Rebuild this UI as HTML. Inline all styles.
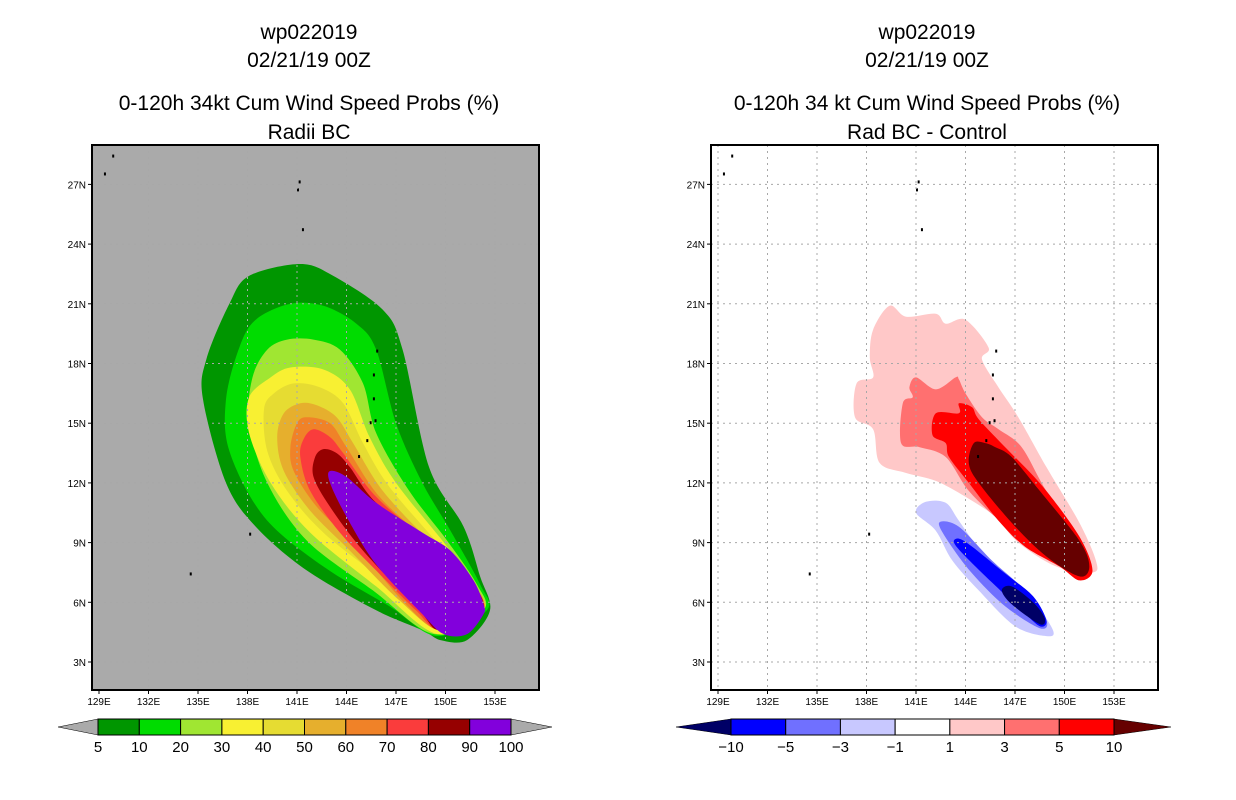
<!DOCTYPE html>
<html><head><meta charset="utf-8">
<style>
body{margin:0;background:#fff;}
svg{display:block;font-family:"Liberation Sans",sans-serif;}
.t{font-size:21px;text-anchor:middle;fill:#000;}
.ax{font-size:10px;fill:#000;}
.cb{font-size:15px;text-anchor:middle;fill:#000;}
</style></head>
<body>
<svg id="chart" width="1236" height="800" viewBox="0 0 1236 800" xmlns="http://www.w3.org/2000/svg">
<text class="t" x="309" y="39">wp022019</text>
<text class="t" x="309" y="67">02/21/19 00Z</text>
<text class="t" x="309" y="110">0-120h 34kt Cum Wind Speed Probs (%)</text>
<text class="t" x="309" y="139">Radii BC</text>
<text class="t" x="927" y="39">wp022019</text>
<text class="t" x="927" y="67">02/21/19 00Z</text>
<text class="t" x="927" y="110">0-120h 34 kt Cum Wind Speed Probs (%)</text>
<text class="t" x="927" y="139">Rad BC - Control</text>
</svg>
<script>
const lonTicks=[129,132,135,138,141,144,147,150,153];
const latTicks=[3,6,9,12,15,18,21,24,27];
const probLevels=["5","10","20","30","40","50","60","70","80","90","100"];
const probColors=["#009600","#00dc00","#a0e632","#f8f032","#e6dc32","#e6af2d","#f08228","#fa3c3c","#960000","#8200dc"];
const diffLevels=["-10","-5","-3","-1","1","3","5","10"];
const diffColors=["#0000ff","#7070ff","#c8c8ff","#ffffff","#ffc8c8","#ff7070","#ff0000"];
// probability contours (lon,lat), levels 5..90
const p5=[[141.2,23.0],[138.1,22.4],[136.9,21.0],[135.5,18.2],[135.3,16.2],[136.7,12.0],[138.5,9.8],[141.6,7.6],[145.8,5.6],[148.6,4.6],[149.7,4.1],[151.3,4.1],[152.7,5.6],[152.1,7.3],[151.1,9.8],[149.0,12.8],[147.4,18.7],[146.2,20.7],[143.2,22.4]];
const p10=[[140.6,21.0],[138.5,20.2],[137.5,18.8],[136.7,16.2],[136.9,13.6],[139.0,10.3],[142.6,7.8],[146.6,5.8],[149.5,4.3],[152.5,5.6],[152.1,6.9],[150.3,9.6],[148.6,12.0],[147.0,15.0],[145.8,18.7],[144.6,20.0],[142.6,20.9]];
const p20=[[140.4,19.2],[139.2,18.7],[138.3,17.3],[138.1,15.0],[139.2,12.0],[141.6,9.1],[145.6,6.6],[149.3,4.4],[152.3,5.6],[151.9,6.9],[150.1,9.1],[147.8,11.6],[145.8,14.5],[145.0,17.0],[143.6,18.7],[142.0,19.2]];
const p30=[[140.6,17.8],[139.4,17.3],[138.1,16.3],[138.1,14.5],[139.4,12.0],[141.8,9.5],[145.8,6.8],[149.5,4.4],[152.3,5.6],[151.7,6.9],[149.9,9.0],[147.0,12.0],[145.4,14.3],[144.2,16.7],[142.6,17.7]];
const p40=[[140.8,17.0],[139.6,16.5],[139.0,15.7],[139.2,13.6],[140.4,11.6],[142.6,9.5],[146.2,7.1],[149.5,4.6],[152.3,5.6],[151.5,7.1],[149.5,9.0],[146.6,11.8],[145.0,14.0],[143.8,16.0],[142.4,16.8]];
const p50=[[141.2,16.0],[140.2,15.5],[139.8,14.3],[140.2,12.6],[141.8,10.6],[144.2,8.6],[147.2,6.1],[149.7,4.6],[152.3,5.6],[151.5,7.1],[149.0,9.1],[146.2,11.6],[144.4,14.0],[143.4,15.3],[142.2,15.9]];
const p60=[[141.6,15.3],[141.0,15.0],[140.6,13.8],[140.8,12.6],[142.2,10.8],[144.6,8.8],[147.6,5.9],[149.7,4.6],[152.3,5.6],[151.5,7.1],[149.0,9.0],[146.0,11.3],[144.0,13.8],[143.0,15.0]];
const p70=[[142.0,14.7],[141.4,14.2],[141.2,13.3],[141.8,11.6],[143.6,9.5],[145.8,7.6],[148.2,5.6],[149.7,4.6],[152.3,5.6],[151.3,7.3],[149.0,9.0],[145.8,11.3],[143.8,13.5],[143.0,14.3]];
const p80=[[142.6,13.7],[142.1,13.3],[142.0,12.3],[143.0,10.8],[145.0,8.6],[148.4,5.6],[149.7,4.6],[152.3,5.6],[151.1,7.6],[149.0,9.0],[145.8,11.0],[144.2,12.8],[143.4,13.5]];
const p90=[[143.0,12.6],[144.0,12.3],[145.8,11.0],[148.6,9.5],[150.3,8.6],[151.7,7.1],[152.3,5.9],[152.3,5.4],[151.3,4.4],[149.9,4.4],[148.6,5.4],[145.8,7.9],[144.0,10.3],[143.0,12.0]];
// difference contours
const d1=[[139.4,20.9],[138.4,19.7],[138.2,18.3],[138.4,17.3],[137.4,17.0],[137.3,15.3],[138.4,14.7],[138.8,13.0],[140.4,12.5],[142.2,12.1],[144.0,11.3],[145.8,10.3],[147.2,9.0],[149.5,7.8],[151.7,7.5],[151.9,8.1],[150.9,10.0],[148.9,12.8],[147.2,15.3],[146.0,16.8],[145.0,18.2],[145.4,18.8],[144.0,20.2],[142.8,20.0],[142.2,20.5],[140.4,20.35]];
const d3=[[141.0,17.3],[140.6,16.8],[140.8,16.3],[140.2,16.0],[140.1,14.0],[141.2,13.8],[142.8,13.3],[144.2,11.6],[146.2,10.0],[148.5,8.5],[150.5,7.6],[151.5,7.8],[150.9,9.3],[148.9,11.6],[147.4,13.8],[146.0,14.7],[145.0,15.3],[144.0,16.5],[143.6,17.2],[143.4,17.3],[142.2,16.7]];
const d5=[[142.2,15.5],[142.0,14.4],[142.8,14.0],[143.0,13.3],[144.2,12.0],[146.0,10.1],[147.6,8.8],[149.7,7.8],[150.9,7.1],[151.7,7.6],[150.9,9.3],[148.7,11.8],[146.4,13.8],[144.8,15.2],[144.4,15.8],[143.6,16.0],[143.6,15.5]];
const d10=[[144.5,14.0],[144.2,13.0],[144.8,12.0],[146.8,10.0],[148.9,8.3],[150.9,7.3],[151.5,7.8],[150.9,9.1],[148.5,11.6],[146.8,13.3],[145.8,13.8],[145.2,14.0]];
const dm1=[[141.6,11.05],[141.0,10.5],[142.2,9.6],[143.2,8.1],[144.8,6.6],[147.0,4.8],[148.9,4.3],[149.3,4.6],[148.1,6.1],[146.8,7.1],[145.0,8.5],[143.6,10.1],[142.8,11.0]];
const dm3=[[142.4,10.0],[143.0,9.0],[144.4,7.45],[146.4,5.8],[148.5,4.7],[148.9,5.1],[147.6,6.6],[145.6,8.1],[143.6,9.8]];
const dm5=[[143.3,9.0],[144.0,8.3],[145.6,7.0],[147.4,5.6],[148.5,4.8],[148.9,5.1],[148.1,6.3],[146.4,7.45],[144.4,8.8],[143.6,9.2]];
const dm10=[[146.2,6.6],[146.8,5.9],[148.5,4.9],[148.8,5.2],[148.1,6.0],[146.8,6.8]];

const svg=document.getElementById('chart');
const NS='http://www.w3.org/2000/svg';
function mk(tag,attrs,parent){const e=document.createElementNS(NS,tag);for(const k in attrs)e.setAttribute(k,attrs[k]);(parent||svg).appendChild(e);return e;}
const BOX={x0:92,x1:539,y0:145,y1:690};
function xs(off){return lon=>off+99+(lon-129)*16.5;}
function ys(lat){return 662-(lat-3)*19.9;}
function smoothPath(pts,X){
  const P=pts.map(p=>[X(p[0]),ys(p[1])]);const n=P.length;
  let d='M'+P[0][0].toFixed(1)+','+P[0][1].toFixed(1);
  const k=0.16;
  for(let i=0;i<n;i++){
    const p0=P[(i-1+n)%n],p1=P[i],p2=P[(i+1)%n],p3=P[(i+2)%n];
    const c1=[p1[0]+(p2[0]-p0[0])*k,p1[1]+(p2[1]-p0[1])*k];
    const c2=[p2[0]-(p3[0]-p1[0])*k,p2[1]-(p3[1]-p1[1])*k];
    d+=' C'+c1[0].toFixed(1)+','+c1[1].toFixed(1)+' '+c2[0].toFixed(1)+','+c2[1].toFixed(1)+' '+p2[0].toFixed(1)+','+p2[1].toFixed(1);
  }
  return d+'Z';
}

function panel(off,bg,layers,colors,name){
  const X=xs(off);
  const g=mk('g',{});
  
  
  const cid='clip'+off;
  const cp=mk('clipPath',{id:cid},g);
  mk('rect',{x:BOX.x0+off,y:BOX.y0,width:BOX.x1-BOX.x0,height:BOX.y1-BOX.y0},cp);
  const bgr=mk('rect',{x:BOX.x0+off,y:BOX.y0,width:BOX.x1-BOX.x0,height:BOX.y1-BOX.y0,fill:bg},g);
  
  
  const cg=mk('g',{'clip-path':'url(#'+cid+')'},g);
  layers.forEach((L,i)=>{
    const p=mk('path',{d:smoothPath(L,X),fill:colors[i]},cg);
    
    
  });
  const land=[[129.8,28.5],[129.3,27.6],[141.1,27.2],[141.0,26.8],[141.3,24.8],[145.4,15.1],[145.7,15.2],[145.2,14.2],[144.7,13.4],[134.5,7.5],[138.1,9.5],[145.6,17.5],[145.8,18.7],[145.6,16.3]];
  land.forEach(p=>{const d=mk('rect',{x:X(p[0]),y:ys(p[1]),width:2,height:3,fill:'#000'},cg);
    
    });
  lonTicks.forEach(v=>{const l=mk('line',{x1:X(v),x2:X(v),y1:BOX.y0,y2:BOX.y1,stroke:'#a8a8a8','stroke-dasharray':'2,4'},g);
    
    });
  latTicks.forEach(v=>{const l=mk('line',{x1:BOX.x0+off,x2:BOX.x1+off,y1:ys(v),y2:ys(v),stroke:'#a8a8a8','stroke-dasharray':'2,4'},g);
    
    });
  const fr=mk('rect',{x:BOX.x0+off,y:BOX.y0,width:BOX.x1-BOX.x0,height:BOX.y1-BOX.y0,fill:'none',stroke:'#000','stroke-width':2},g);
  
  
  lonTicks.forEach(v=>{
    mk('line',{x1:X(v),x2:X(v),y1:BOX.y1,y2:BOX.y1+4,stroke:'#000'},g);
    const t=mk('text',{x:X(v),y:BOX.y1+15,class:'ax','text-anchor':'middle'},g);t.textContent=v+'E';
    
    
  });
  latTicks.forEach(v=>{
    mk('line',{x1:BOX.x0+off-4,x2:BOX.x0+off,y1:ys(v),y2:ys(v),stroke:'#000'},g);
    const t=mk('text',{x:BOX.x0+off-6,y:ys(v)+4,class:'ax','text-anchor':'end'},g);t.textContent=v+'N';
    
    
  });
}
panel(0,'#aaaaaa',[p5,p10,p20,p30,p40,p50,p60,p70,p80,p90],probColors,'left-map-panel');
panel(619,'#ffffff',[d1,d3,d5,d10,dm1,dm3,dm5,dm10],["#ffc8c8","#ff7070","#ff0000","#660000","#c8c8ff","#7070ff","#0000ff","#000066"],'right-map-panel');

function colorbar(x0,x1,tipL,tipR,colors,labels,lcol,rcol,name){
  const g=mk('g',{});
  
  
  const y0=719,y1=735,ym=727;
  mk('polygon',{points:`${tipL},${ym} ${x0},${y0} ${x0},${y1}`,fill:lcol,stroke:'#000','stroke-width':0.5},g);
  mk('polygon',{points:`${tipR},${ym} ${x1},${y0} ${x1},${y1}`,fill:rcol,stroke:'#000','stroke-width':0.5},g);
  const w=(x1-x0)/colors.length;
  colors.forEach((c,i)=>{const r=mk('rect',{x:x0+i*w,y:y0,width:w,height:y1-y0,fill:c,stroke:'#000','stroke-width':1},g);
    
    });
  labels.forEach((s,i)=>{const t=mk('text',{x:x0+i*w,y:752,class:'cb'},g);t.textContent=s.replace('-','\u2212');
    
    });
}
colorbar(98,511,58,552,probColors,probLevels,'#aaaaaa','#aaaaaa','left-colorbar');
colorbar(731,1114,676,1171,diffColors,diffLevels,'#000066','#660000','right-colorbar');
</script>
</body></html>
